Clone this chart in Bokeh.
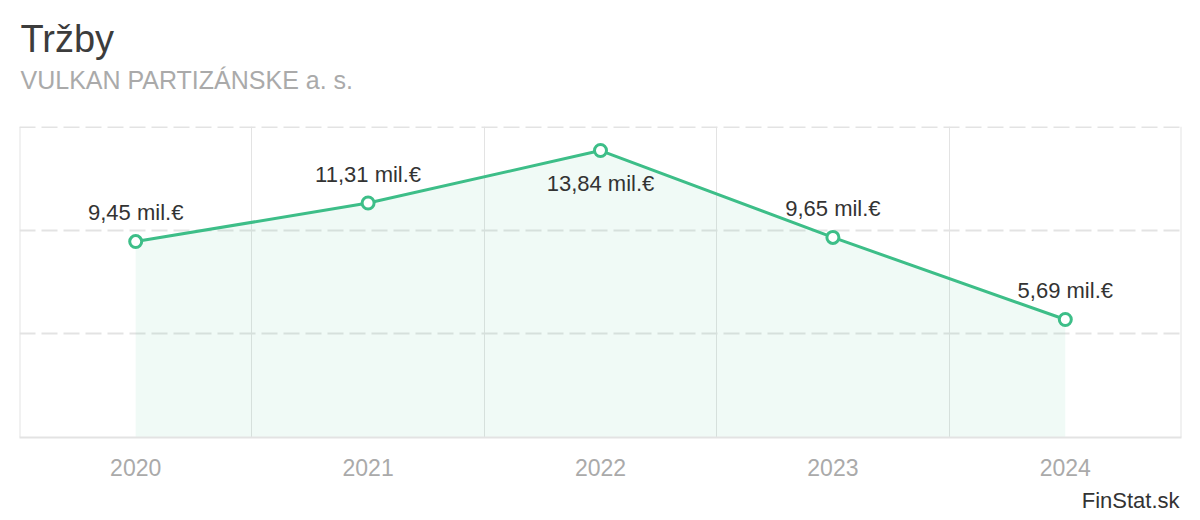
from bokeh.plotting import figure
from bokeh.models import Title, FixedTicker, ColumnDataSource, Span
from bokeh.core.properties import value
from bokeh.embed import file_html
from bokeh.resources import INLINE

title_text = "Tržby"
subtitle_text = "VULKAN PARTIZÁNSKE a. s."
credit_text = "FinStat.sk"
years = ["2020", "2021", "2022", "2023", "2024"]
revenues = [9.45, 11.31, 13.84, 9.65, 5.69]
value_labels = ["9,45 mil.€", "11,31 mil.€", "13,84 mil.€", "9,65 mil.€", "5,69 mil.€"]
y_ticks = [0, 5, 10, 15]

FONT = "Liberation Sans"
GREEN = "#3dbe88"
GRID = "#e3e3e3"

xs = list(range(len(years)))
y_max = y_ticks[-1]
offsets = [33 if v > y_max * 0.88 else -29 for v in revenues]

src = ColumnDataSource(dict(x=xs, y=revenues, lab=value_labels, off=offsets))

p = figure(width=1200, height=520, output_backend="svg", toolbar_location=None,
           x_range=(-0.5, len(years) - 0.5), y_range=(0, y_max),
           min_border_left=19, min_border_right=19, min_border_top=126,
           min_border_bottom=83)
p.title = None
p.outline_line_color = None
p.background_fill_color = "white"
p.border_fill_color = "white"

p.varea(x="x", y1=0, y2="y", source=src, fill_color=GREEN, fill_alpha=0.08)

# grids
p.xgrid.ticker = FixedTicker(ticks=[i + 0.5 for i in range(len(years) - 1)])
p.xgrid.grid_line_color = GRID
p.xgrid.grid_line_width = 1
p.ygrid.ticker = FixedTicker(ticks=y_ticks[1:])
p.ygrid.grid_line_color = GRID
p.ygrid.grid_line_width = 2
p.ygrid.grid_line_dash = "16 6"
p.add_layout(Span(location=-0.5, dimension="height", line_color=GRID, line_width=2))
p.add_layout(Span(location=len(years) - 0.5, dimension="height", line_color=GRID, line_width=2))
p.add_layout(Span(location=y_max, dimension="width", line_color=GRID, line_width=3,
                  line_dash="16 6"))

p.line(x="x", y="y", source=src, line_color=GREEN, line_width=3)
p.scatter(x="x", y="y", source=src, size=12, marker="circle",
          fill_color="white", line_color=GREEN, line_width=3)
p.text(x="x", y="y", text="lab", source=src, y_offset="off",
       text_align="center", text_baseline="alphabetic",
       text_font=value(FONT), text_font_size="22px", text_color="#333333")

# axes
p.yaxis.visible = False
xa = p.xaxis[0]
xa.ticker = FixedTicker(ticks=xs)
xa.major_label_overrides = {i: y for i, y in enumerate(years)}
xa.major_tick_line_color = None
xa.minor_tick_line_color = None
xa.axis_line_color = GRID
xa.axis_line_width = 2
xa.major_label_standoff = 15
xa.major_label_text_font = FONT
xa.major_label_text_font_size = "23px"
xa.major_label_text_color = "#aaaaaa"

# titles and credit
p.add_layout(Title(text=subtitle_text, align="left", offset=1, standoff=66,
                   text_font=FONT, text_font_size="25px", text_font_style="normal",
                   text_color="#aaaaaa"), "above")
p.add_layout(Title(text=title_text, align="left", offset=1, standoff=-58,
                   text_font=FONT, text_font_size="38px", text_font_style="normal",
                   text_color="#3c3c3c"), "above")
p.add_layout(Title(text=credit_text, align="right", offset=2, standoff=14,
                   text_font=FONT, text_font_size="22px", text_font_style="normal",
                   text_color="#333333"), "below")

open("out.html", "w").write(file_html(p, INLINE))
